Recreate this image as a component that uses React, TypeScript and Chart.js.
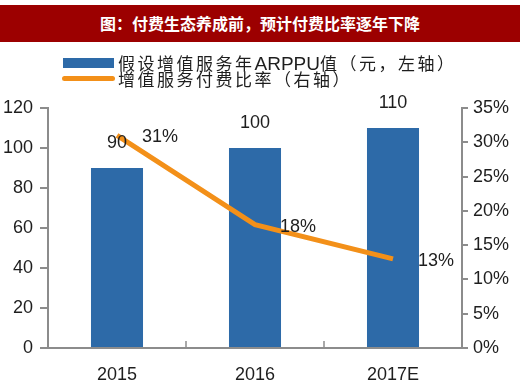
import React, { useEffect, useRef } from "react";
import { Chart, registerables } from "chart.js";

Chart.register(...registerables);

const titleText = "图：付费生态养成前，预计付费比率逐年下降";
const categories = ["2015", "2016", "2017E"];
const arppuValues = [90, 100, 110];
const payRateValues = [31, 18, 13];
const arppuLegendPre = "假设增值服务年";
const arppuLegendLatin = "ARPPU";
const arppuLegendPost = "值（元，左轴）";
const payRateLegend = "增值服务付费比率（右轴）";

const BAR_COLOR = "#2D6AA8";
const LINE_COLOR = "#F39019";
const AXIS_COLOR = "#8C8C8C";
const TEXT_COLOR = "#1E1E1E";
const LATIN_FONT = '"Liberation Sans", Arial, sans-serif';
const CJK_FONT = '"Noto Sans CJK SC", "Noto Sans", sans-serif';

const valueLabelPlugin = {
  id: "valueLabels",
  afterDatasetsDraw(chart: any) {
    const ctx = chart.ctx;
    ctx.save();
    ctx.font = `18px ${LATIN_FONT}`;
    ctx.fillStyle = TEXT_COLOR;
    ctx.textBaseline = "middle";
    const barMeta = chart.getDatasetMeta(1);
    barMeta.data.forEach((el: any, i: number) => {
      ctx.textAlign = "center";
      ctx.fillText(String(arppuValues[i]), el.x, el.y - 25);
    });
    const lineMeta = chart.getDatasetMeta(0);
    lineMeta.data.forEach((el: any, i: number) => {
      ctx.textAlign = "left";
      ctx.fillText(payRateValues[i] + "%", el.x + 25, el.y + 2);
    });
    ctx.restore();
  },
};

const innerTickPlugin = {
  id: "innerTicks",
  afterDraw(chart: any) {
    const scale = chart.scales.x;
    const ctx = chart.ctx;
    ctx.save();
    ctx.strokeStyle = AXIS_COLOR;
    ctx.lineWidth = 1.5;
    for (let i = 1; i < categories.length; i++) {
      const x = Math.round((scale.getPixelForTick(i - 1) + scale.getPixelForTick(i)) / 2);
      ctx.beginPath();
      ctx.moveTo(x, scale.top);
      ctx.lineTo(x, scale.top - 7);
      ctx.stroke();
    }
    ctx.restore();
  },
};

export default function App() {
  const canvasRef = useRef<HTMLCanvasElement | null>(null);

  useEffect(() => {
    if (!canvasRef.current) return;
    const chart = new Chart(canvasRef.current, {
      type: "bar",
      data: {
        labels: categories,
        datasets: [
          {
            type: "line",
            label: payRateLegend,
            data: payRateValues,
            yAxisID: "y1",
            borderColor: LINE_COLOR,
            backgroundColor: LINE_COLOR,
            borderWidth: 5,
            pointRadius: 0,
            tension: 0,
            order: 0,
          } as any,
          {
            type: "bar",
            label: arppuLegendPre + arppuLegendLatin + arppuLegendPost,
            data: arppuValues,
            yAxisID: "y",
            backgroundColor: BAR_COLOR,
            barPercentage: 0.377,
            categoryPercentage: 1,
            order: 1,
          },
        ],
      },
      options: {
        responsive: false,
        animation: false,
        layout: { padding: { top: 108, left: 0, right: 0, bottom: 0 } },
        plugins: {
          legend: { display: false },
          title: { display: false },
          tooltip: { enabled: false },
        },
        scales: {
          x: {
            grid: { display: false, drawTicks: false },
            border: { display: true, color: AXIS_COLOR, width: 2 },
            ticks: {
              color: TEXT_COLOR,
              font: { family: LATIN_FONT, size: 18 },
              padding: 16,
            },
            afterFit(scale: any) {
              scale.height = 41;
            },
          },
          y: {
            position: "left",
            min: 0,
            max: 120,
            grid: {
              drawOnChartArea: false,
              drawTicks: true,
              tickLength: 8,
              color: AXIS_COLOR,
              lineWidth: 2,
            },
            border: { display: true, color: AXIS_COLOR, width: 2 },
            ticks: {
              stepSize: 20,
              color: TEXT_COLOR,
              font: { family: LATIN_FONT, size: 18 },
              padding: 7,
            },
            afterFit(scale: any) {
              scale.width = 48;
            },
          },
          y1: {
            position: "right",
            min: 0,
            max: 35,
            grid: {
              drawOnChartArea: false,
              drawTicks: true,
              tickLength: 6,
              color: AXIS_COLOR,
              lineWidth: 2,
            },
            border: { display: true, color: AXIS_COLOR, width: 2 },
            ticks: {
              stepSize: 5,
              color: TEXT_COLOR,
              font: { family: LATIN_FONT, size: 18 },
              padding: 5,
              callback: (v: any) => v + "%",
            },
            afterFit(scale: any) {
              scale.width = 58;
            },
          },
        },
      },
      plugins: [valueLabelPlugin, innerTickPlugin],
    });
    return () => chart.destroy();
  }, []);

  return (
    <div
      style={{
        position: "fixed",
        left: 0,
        top: 0,
        width: 520,
        height: 389,
        background: "#ffffff",
        overflow: "hidden",
      }}
    >
      <canvas
        ref={canvasRef}
        width={520}
        height={389}
        style={{ position: "absolute", left: 0, top: 0, width: 520, height: 389 }}
      />
      <div
        style={{
          position: "absolute",
          left: 0,
          top: 5,
          width: 520,
          height: 37,
          background: "#9C0000",
          color: "#ffffff",
          fontFamily: CJK_FONT,
          fontWeight: 700,
          fontSize: 16,
          lineHeight: "37px",
          textAlign: "center",
        }}
      >
        {titleText}
      </div>
      <div
        style={{
          position: "absolute",
          left: 63,
          top: 58,
          width: 51,
          height: 10,
          background: BAR_COLOR,
        }}
      />
      <div
        style={{
          position: "absolute",
          left: 118,
          top: 52,
          height: 22,
          lineHeight: "22px",
          fontFamily: CJK_FONT,
          fontSize: 17,
          letterSpacing: 2.5,
          color: TEXT_COLOR,
          whiteSpace: "nowrap",
        }}
      >
        {arppuLegendPre}
        <span style={{ fontFamily: LATIN_FONT, fontSize: 19, letterSpacing: 0 }}>{arppuLegendLatin}</span>
        {arppuLegendPost}
      </div>
      <div
        style={{
          position: "absolute",
          left: 62,
          top: 76,
          width: 53,
          height: 5,
          borderRadius: 3,
          background: LINE_COLOR,
        }}
      />
      <div
        style={{
          position: "absolute",
          left: 118,
          top: 68,
          height: 22,
          lineHeight: "22px",
          fontFamily: CJK_FONT,
          fontSize: 17,
          letterSpacing: 2.5,
          color: TEXT_COLOR,
          whiteSpace: "nowrap",
        }}
      >
        {payRateLegend}
      </div>
    </div>
  );
}
